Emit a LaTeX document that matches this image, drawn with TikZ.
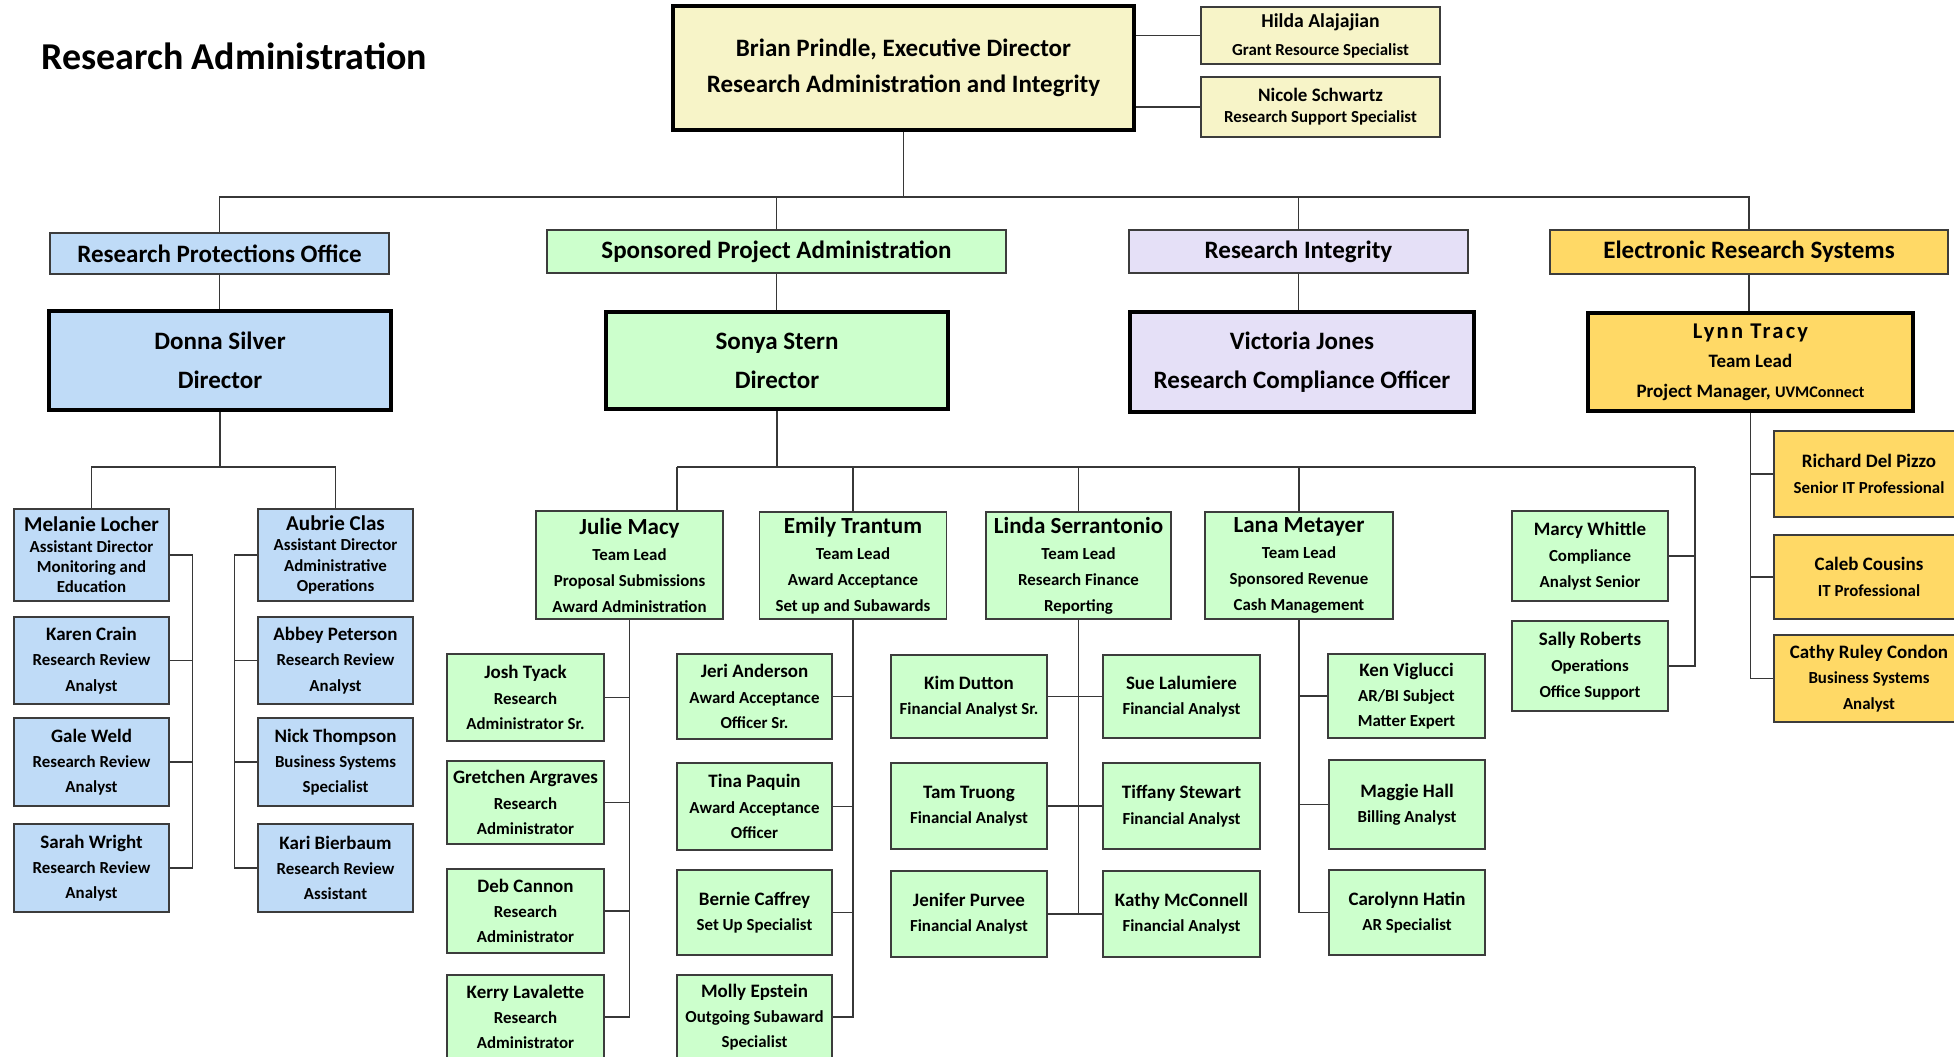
\documentclass[tikz,border=0pt]{standalone}
\usepackage{fontspec}
\setmainfont{Carlito}

\definecolor{ylwbox}{RGB}{247,244,200}
\definecolor{rpoblue}{RGB}{191,219,247}
\definecolor{spagreen}{RGB}{204,255,204}
\definecolor{rilav}{RGB}{229,224,247}
\definecolor{ersgold}{RGB}{255,217,102}
\definecolor{edgegray}{RGB}{60,60,60}
\definecolor{linkgray}{RGB}{55,55,55}

\newcommand\nmsize{\fontsize{13.5}{18}\selectfont}
\newcommand\ldsize{\fontsize{16.4}{18.5}\selectfont}
\newcommand\rlsize{\fontsize{12}{18}\selectfont}
\newcommand\hdsize{\fontsize{17.8}{27.7}\selectfont}

\begin{document}
\begin{tikzpicture}[x=0.025cm, y=-0.025cm,
   box/.style={draw=edgegray, line width=1pt, inner sep=0pt, align=center, text=black},
   wh/.style 2 args={minimum width=#1*0.025cm, minimum height=#2*0.025cm},
   person/.style={box, font=\bfseries\rlsize},
   lead/.style={box, fill=spagreen, font=\bfseries\fontsize{12}{18.5}\selectfont},
   boss/.style={box, draw=black, line width=3pt, font=\bfseries\hdsize},
   unitbox/.style={box, line width=1.1pt, font=\bfseries\fontsize{17.8}{20}\selectfont},
   link/.style={draw=linkgray, line width=1.1pt},
   blu/.style={fill=rpoblue}, grn/.style={fill=spagreen}, lav/.style={fill=rilav},
   gld/.style={fill=ersgold}, ylw/.style={fill=ylwbox}]

 \useasboundingbox (0,0) rectangle (1954,1057);
 \clip (0,0) rectangle (1954,1057);

 %top
 \node[anchor=west, inner sep=0pt, font=\bfseries\fontsize{27}{30}\selectfont] (title) at (41,56) {Research Administration};

 \node[boss, ylw, wh={461}{124}, font=\bfseries\fontsize{17.8}{25.6}\selectfont] (brian) at (903.5,68)
      {Brian Prindle, Executive Director\\Research Administration and Integrity};
 \node[box, ylw, wh={239}{57}, font=\bfseries\fontsize{12}{20}\selectfont] (hilda) at (1320.5,35.5)
      {{\fontsize{14}{20}\selectfont Hilda Alajajian}\\Grant Resource Specialist};
 \node[box, ylw, wh={239}{60}, font=\bfseries\fontsize{12}{15}\selectfont] (nicole) at (1320.5,107)
      {{\fontsize{13.5}{15}\selectfont Nicole Schwartz}\\Research Support Specialist};

 \draw[link] (brian.east |- hilda.west) -- (hilda.west);
 \draw[link] (brian.east |- nicole.west) -- (nicole.west);

 %units
 \node[unitbox, blu, wh={339}{41}] (rpo) at (219.5,253.5) {Research Protections Office};
 \node[unitbox, grn, wh={459}{43}] (spa) at (776.5,251.5) {Sponsored Project Administration};
 \node[unitbox, lav, wh={339}{43}] (ri) at (1298.5,251.5) {Research Integrity};
 \node[unitbox, gld, wh={398}{44}] (ers) at (1749,252) {Electronic Research Systems};

 \coordinate (bus) at (0,197);
 \foreach \s in {rpo,spa,ri,ers} {
     \draw[link] (brian.south) -- (brian.south |- bus) -| (\s.north);
 }

 %directors
 \node[boss, blu, wh={342}{99}] (donna) at (220,360.5) {Donna Silver\\Director};
 \node[boss, grn, wh={342}{97}] (sonya) at (777,360.5) {Sonya Stern\\Director};
 \node[boss, lav, wh={344}{100}] (victoria) at (1302,362) {Victoria Jones\\Research Compliance Officer};
 \node[boss, gld, wh={325}{98}, font=\bfseries\fontsize{13.5}{21}\selectfont] (lynn) at (1750.5,362)
      {{\addfontfeatures{LetterSpace=10}\fontsize{16}{21}\selectfont Lynn Tracy}\\Team Lead\\Project Manager, {\fontsize{11.5}{21}\selectfont UVMConnect}};

 \foreach \s/\d in {rpo/donna,spa/sonya,ri/victoria,ers/lynn} {
     \draw[link] (\s.south) -- (\s.south |- \d.north);
 }

 %research protections
 \node[box, blu, wh={155}{92}, font=\bfseries\fontsize{12}{14.5}\selectfont] (melanie) at (91.5,555)
      {{\fontsize{15}{14.5}\selectfont Melanie Locher}\\Assistant Director\\Monitoring and\\Education};
 \node[box, blu, wh={155}{92}, font=\bfseries\fontsize{12}{14.5}\selectfont] (aubrie) at (335.5,555)
      {{\fontsize{15}{14.5}\selectfont Aubrie Clas}\\Assistant Director\\Administrative\\Operations};

 \foreach \id/\y/\h/\who/\what in {karen/660.5/87/Karen Crain/Research Review\\Analyst,
                                  gale/762/88/Gale Weld/Research Review\\Analyst,
                                  sarah/868/88/Sarah Wright/Research Review\\Analyst} {
     \node[person, blu, wh={155}{\h}] (\id) at (91.5,\y) {{\nmsize \who}\\\what};
 }
 \foreach \id/\y/\h/\who/\what in {abbey/660.5/87/Abbey Peterson/Research Review\\Analyst,
                                  nick/762/88/Nick Thompson/Business Systems\\Specialist,
                                  kari/868/88/Kari Bierbaum/Research Review\\Assistant} {
     \node[person, blu, wh={155}{\h}] (\id) at (335.5,\y) {{\nmsize \who}\\\what};
 }

 \coordinate (dbus) at (220,467);
 \draw[link] (donna.south) -- (dbus);
 \draw[link] (melanie.north) |- (dbus) -| (aubrie.north);
 \draw[link] (melanie.east) -- ++(23,0) |- (sarah.east);
 \draw[link] (aubrie.west) -- ++(-23,0) |- (kari.west);
 \foreach \id in {karen,gale} \draw[link] (\id.east) -- ++(23,0);
 \foreach \id in {abbey,nick} \draw[link] (\id.west) -- ++(-23,0);

 %sponsored projects
 \node[lead, wh={187}{108}] (julie) at (629.5,565) {{\ldsize Julie Macy}\\Team Lead\\Proposal Submissions\\Award Administration};
 \node[lead, wh={187}{107}] (emily) at (853,565.5) {{\ldsize Emily Trantum}\\Team Lead\\Award Acceptance\\Set up and Subawards};
 \node[lead, wh={185}{107}] (linda) at (1078.5,565.5) {{\ldsize Linda Serrantonio}\\Team Lead\\Research Finance\\Reporting};
 \node[lead, wh={188}{107}] (lana) at (1299,565.5) {{\ldsize Lana Metayer}\\Team Lead\\Sponsored Revenue\\Cash Management};

 \coordinate (jtop) at (677,467);
 \coordinate (mtop) at (1695,467);
 \draw[link] (sonya.south) -- (sonya.south |- jtop);
 \draw[link] (jtop) -- (mtop);
 \draw[link] (jtop) -- (jtop |- julie.north);
 \foreach \id in {emily,linda,lana} \draw[link] (\id.north |- jtop) -- (\id.north);

 \foreach \id/\y/\h/\who/\what in {josh/697.5/87/Josh Tyack/Research\\Administrator Sr.,
                                  gretchen/802.5/83/Gretchen Argraves/Research\\Administrator,
                                  deb/911/84/Deb Cannon/Research\\Administrator,
                                  kerry/1017/84/Kerry Lavalette/Research\\Administrator} {
     \node[person, grn, wh={157}{\h}] (\id) at (525.5,\y) {{\nmsize \who}\\\what};
 }
 \draw[link] (julie.south) |- (kerry.east);
 \foreach \id in {josh,gretchen,deb} \draw[link] (\id.east) -- (\id.east -| julie.south);

 \foreach \id/\y/\h/\who/\what in {jeri/696.5/85/Jeri Anderson/Award Acceptance\\Officer Sr.,
                                  tina/806.5/87/Tina Paquin/Award Acceptance\\Officer,
                                  bernie/912.5/85/Bernie Caffrey/Set Up Specialist,
                                  molly/1017/84/Molly Epstein/Outgoing Subaward\\Specialist} {
     \node[person, grn, wh={155}{\h}] (\id) at (754.5,\y) {{\nmsize \who}\\\what};
 }
 \draw[link] (emily.south) |- (molly.east);
 \foreach \id in {jeri,tina,bernie} \draw[link] (\id.east) -- (\id.east -| emily.south);

 \foreach \id/\y/\h/\who/\what in {kim/696.5/83/Kim Dutton/Financial Analyst Sr.,
                                  tam/806/86/Tam Truong/Financial Analyst,
                                  jenifer/914/86/Jenifer Purvee/Financial Analyst} {
     \node[person, grn, wh={156}{\h}] (\id) at (969,\y) {{\nmsize \who}\\\what};
 }
 \foreach \id/\y/\h/\who/\what in {sue/696.5/83/Sue Lalumiere/Financial Analyst,
                                  tiffany/806/86/Tiffany Stewart/Financial Analyst,
                                  kathy/914/86/Kathy McConnell/Financial Analyst} {
     \node[person, grn, wh={157}{\h}] (\id) at (1181.5,\y) {{\nmsize \who}\\\what};
 }
 \draw[link] (linda.south) -- (linda.south |- jenifer.east);
 \foreach \l/\r in {kim/sue,tam/tiffany,jenifer/kathy} \draw[link] (\l.east) -- (\r.west);

 \node[person, grn, wh={157}{84}] (ken) at (1406.5,696) {{\nmsize Ken Viglucci}\\AR/BI Subject\\Matter Expert};
 \node[person, grn, wh={156}{89}] (maggie) at (1407,804.5) {{\nmsize Maggie Hall}\\Billing Analyst};
 \node[person, grn, wh={156}{85}] (carolynn) at (1407,912.5) {{\nmsize Carolynn Hatin}\\AR Specialist};
 \draw[link] (lana.south) |- (carolynn.west);
 \foreach \id in {ken,maggie} \draw[link] (\id.west) -- (\id.west -| lana.south);

 \node[person, grn, wh={156}{90}, font=\bfseries\fontsize{12}{18.5}\selectfont] (marcy) at (1590,556) {{\nmsize Marcy Whittle}\\Compliance\\Analyst Senior};
 \node[person, grn, wh={156}{90}, font=\bfseries\fontsize{12}{18.5}\selectfont] (sally) at (1590,666) {{\nmsize Sally Roberts}\\Operations\\Office Support};
 \draw[link] (mtop) |- (sally.east);
 \draw[link] (marcy.east) -- (marcy.east -| mtop);

 %electronic research systems
 \node[person, gld, wh={190}{86}] (richard) at (1869,474) {{\nmsize Richard Del Pizzo}\\Senior IT Professional};
 \node[person, gld, wh={190}{84}] (caleb) at (1869,577) {{\nmsize Caleb Cousins}\\IT Professional};
 \node[person, gld, wh={190}{87}] (cathy) at (1869,678.5) {{\nmsize Cathy Ruley Condon}\\Business Systems\\Analyst};
 \draw[link] (lynn.south) |- (cathy.west);
 \foreach \id in {richard,caleb} \draw[link] (\id.west) -- (\id.west -| lynn.south);

\end{tikzpicture}
\end{document}
